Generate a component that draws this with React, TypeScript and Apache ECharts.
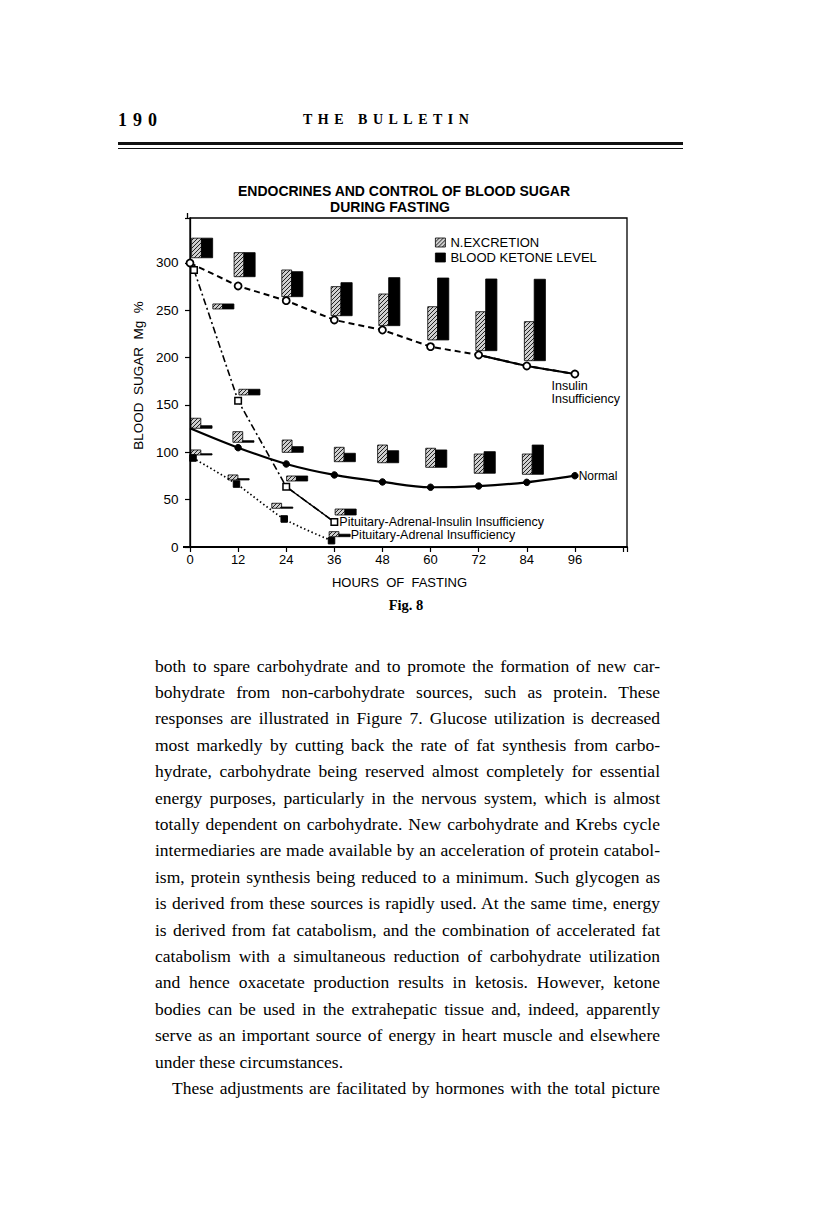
import React, { useEffect, useLayoutEffect, useRef } from 'react';
import * as echarts from 'echarts';

// ---------- data ----------
const hourTicks = [0, 12, 24, 36, 48, 60, 72, 84, 96];
const sugarTicks = [0, 50, 100, 150, 200, 250, 300];

const insulinHours = [0, 12, 24, 36, 48, 60, 72, 84, 96];
const insulinSugar = [300, 275.7, 260.2, 239.8, 229.2, 211.6, 202.8, 191.2, 182.7];

const normalHours = [0, 12, 24, 36, 48, 60, 72, 84, 96];
const normalSugar = [125.4, 104.9, 87.7, 76.1, 68.7, 63.1, 64.4, 68.3, 75.3];

const paiHours = [1, 12, 24, 36];
const paiSugar = [292.6, 154.5, 63.7, 26.4];

const paHours = [0.75, 11.6, 23.5, 35.3];
const paSugar = [94, 66.5, 29.6, 6.7];

// bar groups (N excretion hatched / blood ketone black), in blood-sugar units
const insBarHour = [0.4, 11.0, 22.9, 35.2, 47.1, 59.3, 71.3, 83.4];
const insBarBottom = [305.5, 285.5, 264.4, 244.3, 233.8, 218.7, 207.4, 196.8];
const insNTop = [326.2, 310.9, 292.6, 275.0, 267.2, 253.8, 248.5, 238.0];
const insKTop = [326.2, 310.9, 290.8, 279.2, 284.5, 284.1, 283.1, 282.8];

const normBarHour = [0.25, 10.7, 23.0, 36.0, 46.8, 58.8, 70.9, 82.9];
const normBarBottom = [125.4, 110.6, 100.0, 90.1, 89.0, 84.2, 77.9, 76.8];
const normNTop = [136.0, 121.8, 113.0, 105.3, 107.7, 104.3, 98.2, 98.2];
const normKTop = [128.1, 112.3, 106.0, 99.0, 101.7, 102.5, 100.7, 107.7];

const paiBarHour = [5.7, 12.2, 24.1, 36.2];
const paiBarBottom = [251.4, 160.6, 69.7, 33.8];
const paiNTop = [256.7, 166.6, 75.0, 40.1];
const paiKTop = [256.7, 166.6, 75.0, 40.1];

const paBarHour = [0.25, 9.5, 20.4, 34.7];
const paBarBottom = [97.2, 70.8, 40.9, 10.9];
const paNTop = [102.5, 76.1, 46.2, 16.2];
const paKTop = [98.5, 72.2, 42.2, 13.5];

const bodyLines = [
  'both to spare carbohydrate and to promote the formation of new car-',
  'bohydrate from non-carbohydrate sources, such as protein. These',
  'responses are illustrated in Figure 7. Glucose utilization is decreased',
  'most markedly by cutting back the rate of fat synthesis from carbo-',
  'hydrate, carbohydrate being reserved almost completely for essential',
  'energy purposes, particularly in the nervous system, which is almost',
  'totally dependent on carbohydrate. New carbohydrate and Krebs cycle',
  'intermediaries are made available by an acceleration of protein catabol-',
  'ism, protein synthesis being reduced to a minimum. Such glycogen as',
  'is derived from these sources is rapidly used. At the same time, energy',
  'is derived from fat catabolism, and the combination of accelerated fat',
  'catabolism with a simultaneous reduction of carbohydrate utilization',
  'and hence oxacetate production results in ketosis. However, ketone',
  'bodies can be used in the extrahepatic tissue and, indeed, apparently',
  'serve as an important source of energy in heart muscle and elsewhere',
  'under these circumstances.',
  'These adjustments are facilitated by hormones with the total picture',
];

const FONT = "'Liberation Sans', Arial, sans-serif";
const SERIF = "'Liberation Serif', 'Times New Roman', serif";

const W_N = 2.45;
const W_K = 2.8;

function pairs(xs: number[], ys: number[]) {
  return xs.map((x, i) => [x, ys[i]]);
}

function barData(hours: number[], bottom: number[], top: number[]) {
  return hours.map((h, i) => [h, bottom[i], top[i]]);
}

export default function App() {
  const chartRef = useRef<HTMLDivElement>(null);
  const lineRefs = useRef<(HTMLSpanElement | null)[]>([]);

  useLayoutEffect(() => {
    lineRefs.current.forEach((span, i) => {
      if (!span || i === 15) return;
      const target = i === 16 ? 488 : 505;
      span.style.wordSpacing = '0px';
      span.style.letterSpacing = '0px';
      const w = span.getBoundingClientRect().width;
      const txt = bodyLines[i];
      const spaces = (txt.match(/ /g) || []).length;
      if (w > target) {
        span.style.letterSpacing = (target - w) / txt.length + 'px';
      } else if (spaces > 0) {
        span.style.wordSpacing = (target - w) / spaces + 'px';
      }
    });
  }, []);

  useEffect(() => {
    const el = chartRef.current!;
    const chart = echarts.init(el, null, { renderer: 'svg' });

    const cv = document.createElement('canvas');
    cv.width = 4;
    cv.height = 4;
    const ctx = cv.getContext('2d')!;
    ctx.fillStyle = '#cfcfcf';
    ctx.fillRect(0, 0, 4, 4);
    ctx.strokeStyle = '#222';
    ctx.lineWidth = 1;
    ctx.beginPath();
    ctx.moveTo(0, 4); ctx.lineTo(4, 0);
    ctx.moveTo(-1, 1); ctx.lineTo(1, -1);
    ctx.moveTo(3, 5); ctx.lineTo(5, 3);
    ctx.stroke();
    const hatch: any = { image: cv.toDataURL(), repeat: 'repeat', imageWidth: 4, imageHeight: 4 };

    const renderBar = (offset: number, width: number, fill: any) => (params: any, api: any) => {
      const start = api.value(0) + offset;
      const p0 = api.coord([start, api.value(2)]);
      const p1 = api.coord([start + width, api.value(1)]);
      return {
        type: 'rect',
        shape: { x: p0[0], y: p0[1], width: p1[0] - p0[0], height: Math.max(p1[1] - p0[1], 1) },
        style: { fill, stroke: '#000', lineWidth: 0.8 },
      };
    };

    const nData = [
      ...barData(insBarHour, insBarBottom, insNTop),
      ...barData(normBarHour, normBarBottom, normNTop),
      ...barData(paiBarHour, paiBarBottom, paiNTop),
      ...barData(paBarHour, paBarBottom, paNTop),
    ];
    const kData = [
      ...barData(insBarHour, insBarBottom, insKTop),
      ...barData(normBarHour, normBarBottom, normKTop),
      ...barData(paiBarHour, paiBarBottom, paiKTop),
      ...barData(paBarHour, paBarBottom, paKTop),
    ];

    const labelStyle = { color: '#000', fontSize: 12.5, fontFamily: FONT };

    const insData: any[] = pairs(insulinHours, insulinSugar);
    insData[insData.length - 1] = {
      value: insData[insData.length - 1],
      label: { show: true, formatter: 'Insulin\nInsufficiency', position: [-19, 10], lineHeight: 13, ...labelStyle },
    };
    const normData: any[] = pairs(normalHours, normalSugar);
    normData[0] = { value: normData[0], symbol: 'none' };
    normData[normData.length - 1] = {
      value: normData[normData.length - 1],
      label: { show: true, formatter: 'Normal', position: 'right', distance: 0, ...labelStyle, fontSize: 12 },
    };
    const paiData: any[] = pairs(paiHours, paiSugar);
    paiData[paiData.length - 1] = {
      value: paiData[paiData.length - 1],
      label: { show: true, formatter: 'Pituitary-Adrenal-Insulin Insufficiency', position: 'right', distance: 1, ...labelStyle },
    };
    const paData: any[] = pairs(paHours, paSugar);
    paData[paData.length - 1] = {
      value: paData[paData.length - 1],
      label: { show: true, formatter: 'Pituitary-Adrenal Insufficiency', position: [23, -8], lineHeight: 13, ...labelStyle },
    };

    const option: any = {
      animation: false,
      grid: {
        left: 190, right: 189, top: 58, bottom: 73,
        show: true, borderColor: '#000', borderWidth: 1.3, backgroundColor: 'transparent',
      },
      graphic: [
        { type: 'text', x: 404, y: 31, style: { text: 'ENDOCRINES AND CONTROL OF BLOOD SUGAR', fill: '#000', font: `bold 14px ${FONT}`, textAlign: 'center', textVerticalAlign: 'middle' } },
        { type: 'text', x: 390, y: 47, style: { text: 'DURING FASTING', fill: '#000', font: `bold 14px ${FONT}`, textAlign: 'center', textVerticalAlign: 'middle' } },
        { type: 'line', shape: { x1: 183, y1: 387, x2: 190, y2: 387 }, style: { stroke: '#000', lineWidth: 2 }, z: 10 },
        { type: 'line', shape: { x1: 187.5, y1: 53, x2: 187.5, y2: 58 }, style: { stroke: '#000', lineWidth: 1.3 } },
      ],
      legend: {
        orient: 'vertical', left: 430, top: 71, itemWidth: 10, itemHeight: 9, itemGap: 2,
        selectedMode: false,
        textStyle: { color: '#000', fontSize: 13, fontFamily: FONT },
        data: [
          { name: 'N.EXCRETION', icon: 'rect', itemStyle: { color: hatch, borderColor: '#000', borderWidth: 0.8 } },
          { name: 'BLOOD KETONE LEVEL', icon: 'rect', itemStyle: { color: '#000', borderColor: '#000', borderWidth: 0.8 } },
        ],
      },
      xAxis: {
        type: 'value', min: 0, max: 109, interval: 12,
        axisLine: { onZero: false, lineStyle: { color: '#000', width: 2 } },
        axisTick: { show: true, length: 5, lineStyle: { color: '#000', width: 1.2 } },
        axisLabel: {
          color: '#000', fontSize: 13, margin: 6, fontFamily: FONT,
          formatter: (v: number) => (hourTicks.includes(v) ? String(v) : ''),
        },
        splitLine: { show: false },
        name: 'HOURS  OF  FASTING', nameLocation: 'middle', nameGap: 29,
        nameTextStyle: { color: '#000', fontSize: 13, fontFamily: FONT, padding: [0, 18, 0, 0] },
      },
      yAxis: {
        type: 'value', min: 0, max: 347.5, interval: 50, offset: 2.5,
        axisLine: { show: true, lineStyle: { color: '#000', width: 1.3 } },
        axisTick: { show: true, length: 5, lineStyle: { color: '#000', width: 1.2 } },
        axisLabel: {
          color: '#000', fontSize: 13.5, margin: 9, fontFamily: FONT,
          formatter: (v: number) => (sugarTicks.includes(v) ? String(v) : ''),
        },
        splitLine: { show: false },
        name: 'BLOOD  SUGAR  Mg  %', nameLocation: 'middle', nameRotate: 90, nameGap: 37,
        nameTextStyle: { color: '#000', fontSize: 13.5, fontFamily: FONT, padding: [0, 0, 0, 14] },
      },
      series: [
        { type: 'custom', name: 'N.EXCRETION', renderItem: renderBar(0, W_N, hatch), data: nData, itemStyle: { color: hatch }, z: 2 },
        { type: 'custom', name: 'BLOOD KETONE LEVEL', renderItem: renderBar(W_N, W_K, '#000'), data: kData, itemStyle: { color: '#000' }, z: 2 },
        {
          type: 'line', name: 'Insulin Insufficiency', data: insData, z: 5,
          lineStyle: { color: '#000', width: 2, type: [6, 4] },
          symbol: 'circle', symbolSize: 7,
          itemStyle: { color: '#fff', borderColor: '#000', borderWidth: 1.8 },
        },
        {
          type: 'line', name: 'Insulin solid', data: pairs(insulinHours.slice(6), insulinSugar.slice(6)), z: 3,
          lineStyle: { color: '#000', width: 2 }, symbol: 'none',
        },
        {
          type: 'line', name: 'Normal', data: normData, z: 5, smooth: 0.35,
          lineStyle: { color: '#000', width: 2.2 },
          symbol: 'circle', symbolSize: 6.5,
          itemStyle: { color: '#000', borderColor: '#000' },
        },
        {
          type: 'line', name: 'Pituitary-Adrenal-Insulin Insufficiency', data: paiData, z: 5,
          lineStyle: { color: '#000', width: 1.6, type: [7, 3, 2, 3] },
          symbol: 'rect', symbolSize: 6.5,
          itemStyle: { color: '#fff', borderColor: '#000', borderWidth: 1.5 },
        },
        {
          type: 'line', name: 'PAI solid', data: pairs(paiHours.slice(2), paiSugar.slice(2)), z: 3,
          lineStyle: { color: '#000', width: 1.4 }, symbol: 'none',
        },
        {
          type: 'line', name: 'Pituitary-Adrenal Insufficiency', data: paData, z: 5, smooth: 0.25,
          lineStyle: { color: '#000', width: 1.7, type: [1.5, 2.5] },
          symbol: 'rect', symbolSize: 6.5,
          itemStyle: { color: '#000', borderColor: '#000' },
        },
      ],
    };

    chart.setOption(option);
    return () => chart.dispose();
  }, []);

  const lineTop = 652.5;
  const pitch = 26.4;

  return (
    <div style={{ position: 'absolute', left: 0, top: 0, width: 816, height: 1224, background: '#fff', overflow: 'hidden', color: '#000' }}>
      <div style={{ position: 'absolute', left: 118, top: 109, fontFamily: SERIF, fontSize: 18, lineHeight: '22px', fontWeight: 'bold', letterSpacing: '6px' }}>190</div>
      <div style={{ position: 'absolute', left: 303, top: 111, fontFamily: SERIF, fontSize: 14, lineHeight: '18px', fontWeight: 'bold', letterSpacing: '5.5px' }}>THE BULLETIN</div>
      <div style={{ position: 'absolute', left: 118, top: 142, width: 565, height: 2.5, background: '#111' }} />
      <div style={{ position: 'absolute', left: 118, top: 147.5, width: 565, height: 1, background: '#111' }} />

      <div ref={chartRef} style={{ position: 'absolute', left: 0, top: 160, width: 816, height: 460 }} />

      <div style={{ position: 'absolute', left: 356, top: 595, width: 100, textAlign: 'center', fontFamily: SERIF, fontSize: 14.5, lineHeight: '20px', fontWeight: 'bold' }}>Fig. 8</div>

      {bodyLines.map((t, i) => (
        <span
          key={i}
          ref={(el) => { lineRefs.current[i] = el; }}
          style={{
            position: 'absolute',
            left: i === 16 ? 172 : 155,
            top: lineTop + i * pitch,
            whiteSpace: 'nowrap',
            display: 'inline-block',
            fontFamily: SERIF,
            fontSize: 17.5,
            lineHeight: pitch + 'px',
          }}
        >
          {t}
        </span>
      ))}
    </div>
  );
}
